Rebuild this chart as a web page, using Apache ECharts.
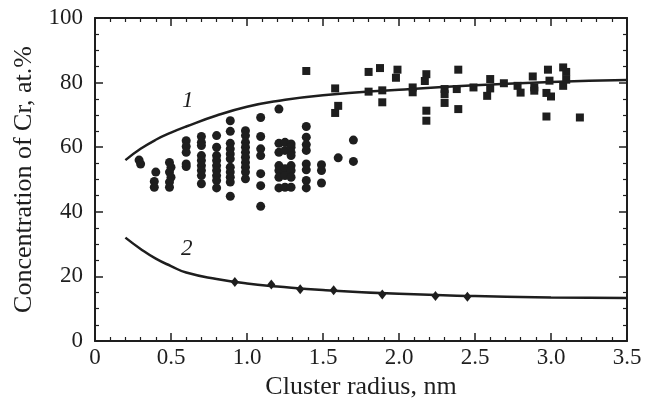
<!DOCTYPE html>
<html>
<head>
<meta charset="utf-8">
<script src="https://cdn.jsdelivr.net/npm/echarts@6/dist/echarts.min.js"></script>
<style>
  html, body { margin: 0; padding: 0; background: #fff; }
  #chart { width: 660px; height: 406px; }
</style>
</head>
<body>
<div id="chart"></div>
<script>
// circles: small clusters
var circleX = [0.29, 0.30, 0.40, 0.39, 0.39,
  0.49, 0.50, 0.49, 0.50, 0.49, 0.49,
  0.60, 0.60, 0.60, 0.60, 0.60,
  0.70, 0.70, 0.70, 0.70, 0.70, 0.70, 0.70, 0.70, 0.70,
  0.80, 0.80, 0.80, 0.80, 0.80, 0.80, 0.80, 0.80, 0.80,
  0.89, 0.89, 0.89, 0.89, 0.89, 0.89, 0.89, 0.89, 0.89, 0.89, 0.89,
  0.99, 0.99, 0.99, 0.99, 0.99, 0.99, 0.99, 0.99, 0.99, 0.99,
  1.09, 1.09, 1.09, 1.09, 1.09, 1.09, 1.09,
  1.21, 1.21, 1.21, 1.21, 1.21, 1.21, 1.21,
  1.25, 1.25, 1.25, 1.25, 1.25,
  1.29, 1.29, 1.29, 1.29, 1.29, 1.29, 1.29, 1.29,
  1.39, 1.39, 1.39, 1.39, 1.39, 1.39, 1.39, 1.39,
  1.49, 1.49, 1.49,
  1.60, 1.70, 1.70];
var circleY = [56.0, 54.8, 52.3, 49.4, 47.6,
  55.3, 53.8, 52.3, 50.7, 49.2, 47.6,
  62.0, 60.2, 58.4, 54.8, 54.0,
  63.3, 61.5, 60.5, 57.4, 55.9, 54.3, 52.8, 51.2, 48.7,
  63.6, 60.0, 57.4, 55.9, 54.3, 52.8, 51.2, 49.7, 47.4,
  68.2, 64.9, 61.2, 59.5, 57.9, 56.4, 53.8, 52.3, 50.7, 49.2, 44.8,
  65.1, 63.6, 61.5, 60.0, 58.4, 56.9, 55.3, 53.8, 52.3, 50.2,
  69.2, 63.3, 59.5, 57.4, 51.8, 48.1, 41.7,
  71.8, 61.2, 58.4, 54.3, 52.8, 50.7, 47.4,
  61.5, 59.0, 53.3, 51.2, 47.6,
  61.0, 60.0, 58.4, 57.4, 54.3, 52.8, 50.7, 47.6,
  66.4, 63.1, 60.8, 59.0, 54.8, 53.0, 49.7, 47.4,
  54.6, 52.8, 48.9,
  56.7, 62.2, 55.6];

// squares: larger clusters
var squareX = [1.39, 1.60, 1.58, 1.58, 1.80, 1.875, 1.80, 1.89, 1.89, 1.99, 1.98,
  2.09, 2.09, 2.18, 2.17, 2.18, 2.18, 2.30, 2.30, 2.30, 2.39, 2.38, 2.39,
  2.49, 2.60, 2.60, 2.58, 2.69, 2.78, 2.80, 2.88, 2.89, 2.89,
  2.98, 2.99, 2.97, 3.00, 2.97, 3.08, 3.10, 3.08, 3.10, 3.19];
var squareY = [83.6, 72.8, 70.6, 78.2, 83.3, 84.5, 77.2, 77.6, 73.9, 84.0, 81.5,
  78.5, 77.0, 82.6, 80.5, 71.3, 68.2, 78.0, 76.4, 73.7, 84.0, 78.0, 71.8,
  78.5, 81.1, 78.2, 75.9, 79.8, 79.0, 76.9, 81.9, 78.5, 77.5,
  84.0, 80.6, 76.8, 75.7, 69.5, 84.7, 83.3, 79.0, 80.9, 69.2];

// diamonds on curve 2
var diamondX = [0.92, 1.16, 1.35, 1.57, 1.89, 2.24, 2.45];
var diamondY = [18.3, 17.5, 16.0, 15.7, 14.4, 13.9, 13.7];

// fitted curves
var curveX = [0.2, 0.3, 0.4, 0.5, 0.6, 0.8, 1.0, 1.2, 1.5, 2.0, 2.5, 3.0, 3.5];
var curve1Y = [56.0, 59.5, 62.3, 64.5, 66.4, 69.8, 72.5, 74.3, 76.1, 77.8, 79.2, 80.2, 80.8];
var curve2Y = [32.0, 28.5, 25.5, 23.2, 21.2, 19.2, 17.8, 16.9, 15.8, 14.6, 13.9, 13.5, 13.3];

var xTicks = ['0', '0.5', '1.0', '1.5', '2.0', '2.5', '3.0', '3.5'];

function pairs(xs, ys) {
    return xs.map(function (x, i) { return [x, ys[i]]; });
}

var ink = '#1e1e1e';
var font = 'Liberation Serif';

var chart = echarts.init(document.getElementById('chart'));

var axisBase = {
    type: 'value',
    axisLine: { show: true, onZero: false, lineStyle: { color: ink, width: 2 } },
    axisTick: { show: true, inside: true, length: 8, lineStyle: { color: ink, width: 1.5 } },
    minorTick: { show: true, length: 4, lineStyle: { color: ink, width: 1.2 } },
    splitLine: { show: false }
};

chart.setOption({
    animation: false,
    backgroundColor: '#fff',
    grid: { left: 95, right: 33, top: 18, bottom: 65 },
    xAxis: [
        Object.assign({}, axisBase, {
            min: 0, max: 3.5, interval: 0.5,
            position: 'bottom',
            minorTick: Object.assign({}, axisBase.minorTick, { splitNumber: 5 }),
            name: 'Cluster radius, nm',
            nameLocation: 'middle',
            nameGap: 31,
            nameTextStyle: { fontFamily: font, fontSize: 26, color: ink },
            axisLabel: {
                fontFamily: font, fontSize: 23, color: ink, margin: 5,
                formatter: function (v) { return xTicks[Math.round(v / 0.5)]; }
            }
        }),
        Object.assign({}, axisBase, {
            min: 0, max: 3.5, interval: 0.5,
            position: 'top',
            minorTick: Object.assign({}, axisBase.minorTick, { splitNumber: 5 }),
            axisLabel: { show: false }
        })
    ],
    yAxis: [
        Object.assign({}, axisBase, {
            min: 0, max: 100, interval: 20,
            position: 'left',
            minorTick: Object.assign({}, axisBase.minorTick, { splitNumber: 4 }),
            name: 'Concentration of Cr, at.%',
            nameLocation: 'middle',
            nameGap: 54,
            nameTextStyle: { fontFamily: font, fontSize: 26, color: ink },
            axisLabel: { fontFamily: font, fontSize: 23, color: ink, margin: 12 }
        }),
        Object.assign({}, axisBase, {
            min: 0, max: 100, interval: 20,
            position: 'right',
            minorTick: Object.assign({}, axisBase.minorTick, { splitNumber: 4 }),
            axisLabel: { show: false }
        })
    ],
    series: [
        {
            type: 'line', smooth: true, showSymbol: false,
            data: pairs(curveX, curve1Y),
            lineStyle: { color: ink, width: 2.5 }
        },
        {
            type: 'line', smooth: true, showSymbol: false,
            data: pairs(curveX, curve2Y),
            lineStyle: { color: ink, width: 2.5 }
        },
        {
            type: 'scatter', symbol: 'circle', symbolSize: 9,
            data: pairs(circleX, circleY),
            itemStyle: { color: ink, opacity: 1 }
        },
        {
            type: 'scatter', symbol: 'rect', symbolSize: 8,
            data: pairs(squareX, squareY),
            itemStyle: { color: ink, opacity: 1 }
        },
        {
            type: 'scatter', symbol: 'diamond', symbolSize: [8, 10],
            data: pairs(diamondX, diamondY),
            itemStyle: { color: ink, opacity: 1 }
        }
    ],
    graphic: [
        { type: 'text', left: 182, top: 89, style: { text: '1', font: 'italic 23px "Liberation Serif"', fill: ink } },
        { type: 'text', left: 181, top: 237, style: { text: '2', font: 'italic 23px "Liberation Serif"', fill: ink } }
    ]
});
</script>
</body>
</html>
